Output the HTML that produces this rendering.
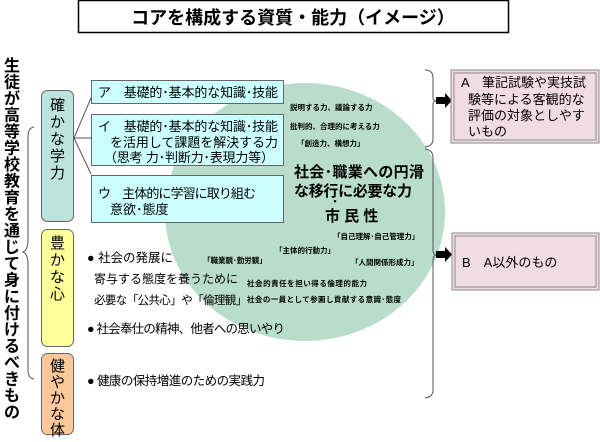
<!DOCTYPE html>
<html><head><meta charset="utf-8"><style>
body{margin:0;background:#fff;}
svg text{font-family:"Liberation Sans","Noto Sans CJK JP",sans-serif;fill:#000;}
</style></head><body>
<svg width="600" height="437" viewBox="0 0 600 437" xmlns="http://www.w3.org/2000/svg">
<rect x="0" y="0" width="600" height="437" fill="#fff"/>
<rect x="78.5" y="0.5" width="430" height="32" fill="#fff" stroke="#000" stroke-width="1.5"/>
<text x="293" y="24" font-size="18" font-weight="bold" text-anchor="middle">コアを構成する資質・能力（イメージ）</text>
<ellipse cx="305" cy="212" rx="140" ry="129" fill="#b9ddcb"/>
<text font-size="16" font-weight="bold" text-anchor="middle">
<tspan x="12" y="71">生</tspan><tspan x="12" dy="16.5">徒</tspan><tspan x="12" dy="16.5">が</tspan><tspan x="12" dy="16.5">高</tspan><tspan x="12" dy="16.5">等</tspan><tspan x="12" dy="16.5">学</tspan><tspan x="12" dy="16.5">校</tspan><tspan x="12" dy="16.5">教</tspan><tspan x="12" dy="16.5">育</tspan><tspan x="12" dy="16.5">を</tspan><tspan x="12" dy="16.5">通</tspan><tspan x="12" dy="16.5">じ</tspan><tspan x="12" dy="16.5">て</tspan><tspan x="12" dy="16.5">身</tspan><tspan x="12" dy="16.5">に</tspan><tspan x="12" dy="16.5">付</tspan><tspan x="12" dy="16.5">け</tspan><tspan x="12" dy="16.5">る</tspan><tspan x="12" dy="16.5">べ</tspan><tspan x="12" dy="16.5">き</tspan><tspan x="12" dy="16.5">も</tspan><tspan x="12" dy="16.5">の</tspan>
</text>
<path d="M34 127 Q28 128 28 136 L28 240 Q28 250 23 252 Q28 254 28 264 L28 370 Q28 378 34 379" fill="none" stroke="#555" stroke-width="1"/>
<rect x="41.5" y="90.5" width="32" height="131" rx="6" fill="#bce3de" stroke="#666"/>
<text font-size="15" text-anchor="middle"><tspan x="57.5" y="110">確</tspan><tspan x="57.5" dy="17">か</tspan><tspan x="57.5" dy="17">な</tspan><tspan x="57.5" dy="17">学</tspan><tspan x="57.5" dy="17">力</tspan></text>
<rect x="41.5" y="229.5" width="32" height="117" rx="6" fill="#ffff99" stroke="#666"/>
<text font-size="15" text-anchor="middle"><tspan x="57.5" y="248">豊</tspan><tspan x="57.5" dy="17">か</tspan><tspan x="57.5" dy="17">な</tspan><tspan x="57.5" dy="17">心</tspan></text>
<rect x="41.5" y="353.5" width="32" height="81" rx="6" fill="#fcc89b" stroke="#666"/>
<text font-size="15" text-anchor="middle"><tspan x="57.5" y="371">健</tspan><tspan x="57.5" dy="16">や</tspan><tspan x="57.5" dy="16">か</tspan><tspan x="57.5" dy="16">な</tspan><tspan x="57.5" dy="16">体</tspan></text>
<path d="M74 138 L91 98 M74 138 L91 138 M74 138 L91 174" fill="none" stroke="#555" stroke-width="1"/>
<rect x="91.5" y="80.5" width="192" height="23" fill="#ccffff" stroke="#666"/>
<text x="98" y="97" font-size="13" textLength="180">ア　基礎的･基本的な知識･技能</text>
<rect x="91.5" y="114.5" width="192" height="51" fill="#ccffff" stroke="#666"/>
<text font-size="13"><tspan x="98" y="131" textLength="180">イ　基礎的･基本的な知識･技能</tspan><tspan x="110" y="147" textLength="168">を活用して課題を解決する力</tspan><tspan x="104" y="162" textLength="170">（思考 力･判断力･表現力等）</tspan></text>
<rect x="91.5" y="175.5" width="192" height="47" fill="#ccffff" stroke="#666"/>
<text font-size="13"><tspan x="98" y="198" textLength="158">ウ　主体的に学習に取り組む</tspan><tspan x="110" y="214">意欲･態度</tspan></text>
<g font-size="7.5" font-weight="bold">
<text x="290" y="110">説明する力、議論する力</text>
<text x="290" y="129">批判的、合理的に考える力</text>
<text x="297" y="146">「創造力、構想力」</text>
<text x="333" y="239">「自己理解･自己管理力」</text>
<text x="275" y="253">「主体的行動力」</text>
<text x="203" y="263">「職業観･勤労観」</text>
<text x="351" y="265">「人間関係形成力」</text>
<text x="247" y="286" textLength="120">社会的責任を担い得る倫理的能力</text>
<text x="247" y="302" textLength="154">社会の一員として参画し貢献する意識･態度</text>
</g>
<g font-size="15" font-weight="bold">
<text x="294" y="177" textLength="130">社会･職業への円滑</text>
<text x="294" y="196" textLength="118">な移行に必要な力</text>
<text x="330" y="205" font-size="10">・</text>
<text x="325" y="221">市 民 性</text>
</g>
<g font-size="12.5">
<text x="87" y="262">● 社会の発展に</text>
<text x="94" y="283" font-size="12">寄与する態度を養うために</text>
<text x="94" y="304" font-size="11.5" letter-spacing="-0.6">必要な「公共心」や「倫理観」</text>
<text x="87" y="333" textLength="198">● 社会奉仕の精神、他者への思いやり</text>
<text x="87" y="385" textLength="178">● 健康の保持増進のための実践力</text>
</g>
<path d="M425 70 Q433 70 433 78 L433 98 Q433 101 437 101 Q433 101 433 104 L433 139 Q433 146 425 147" fill="none" stroke="#555"/>
<path d="M425 149 Q433 150 433 158 L433 250 Q433 255 437 255 Q433 255 433 260 L433 390 Q433 397 425 398" fill="none" stroke="#555"/>
<rect x="436" y="97" width="10" height="7" fill="#000"/><path d="M445 93 L452 100.5 L445 108 Z" fill="#000"/>
<rect x="436" y="251" width="10" height="7" fill="#000"/><path d="M445 247 L452 254.5 L445 262 Z" fill="#000"/>
<rect x="451" y="70" width="148" height="73" fill="#f2dce4" stroke="#888" stroke-width="1"/>
<rect x="454" y="73" width="142" height="67" fill="none" stroke="#888"/>
<text font-size="13"><tspan x="461" y="87">A　筆記試験や実技試</tspan><tspan x="468" y="104">験等による客観的な</tspan><tspan x="468" y="120">評価の対象としやす</tspan><tspan x="468" y="136">いもの</tspan></text>
<rect x="452" y="233" width="147" height="57" fill="#f2dce4" stroke="#888"/>
<rect x="455" y="236" width="141" height="51" fill="none" stroke="#888"/>
<text x="462" y="267" font-size="13">B　A以外のもの</text>
</svg>
</body></html>
